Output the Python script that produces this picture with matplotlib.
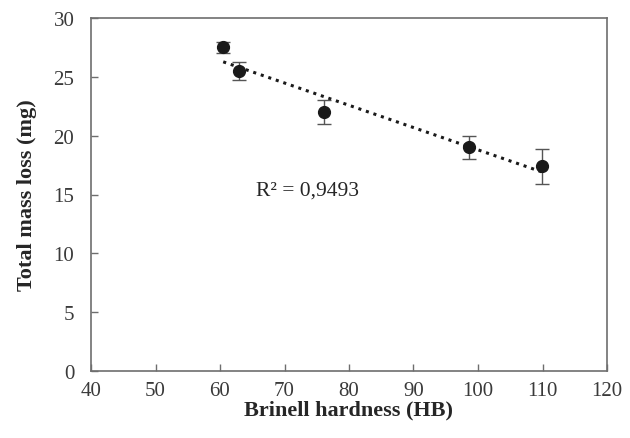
import matplotlib as mpl
mpl.use("Agg")
import matplotlib.pyplot as plt
import numpy as np

# values
hardness = [60.5, 62.9, 76.1, 98.6, 109.9]
mass_loss = [27.5, 25.5, 22.0, 19.0, 17.4]
mass_err = [0.45, 0.75, 1.0, 1.0, 1.5]
x_ticks = [40, 50, 60, 70, 80, 90, 100, 110, 120]
y_ticks = [0, 5, 10, 15, 20, 25, 30]
r2_label = "R² = 0,9493"

mpl.rcParams.update({
    "font.family": ["Liberation Serif", "DejaVu Serif"],
    "axes.unicode_minus": False,
})

fig = plt.figure(figsize=(6.3, 4.39), dpi=100)
ax = fig.add_axes([91 / 630, 1 - 372 / 439, (607 - 91) / 630, (372 - 19) / 439])

# linear trendline
slope, intercept = np.polyfit(hardness, mass_loss, 1)
xs = np.array([min(hardness), max(hardness)])
ax.plot(xs, slope * xs + intercept, linestyle=(0, (1, 1.6)), color="#1a1a1a", lw=2.2, zorder=2)

ax.errorbar(hardness, mass_loss, yerr=mass_err, fmt="o", color="#1a1a1a", markersize=8.5,
            ecolor="#555555", elinewidth=1.0, capsize=5, capthick=1.0, zorder=3)

ax.text(0.419, 0.513, r2_label, transform=ax.transAxes, ha="center", va="center",
        fontsize=15.5, color="#262626")

ax.set_xlim(40, 120)
ax.set_ylim(0, 30)
ax.set_xticks(x_ticks)
ax.set_yticks(y_ticks)
ax.tick_params(direction="in", length=5, width=1, color="#6e6e6e", labelsize=15,
               labelcolor="#3a3a3a")
ax.tick_params(axis="y", pad=12)
ax.tick_params(axis="x", pad=7)
for sp in ax.spines.values():
    sp.set_color("#6e6e6e")
    sp.set_linewidth(1.2)

ax.set_xlabel("Brinell hardness (HB)", fontsize=16, fontweight="bold", color="#262626", labelpad=0)
ax.set_ylabel("Total mass loss (mg)", fontsize=16, fontweight="bold", color="#262626", labelpad=12)

fig.savefig("out.png", dpi=100)
